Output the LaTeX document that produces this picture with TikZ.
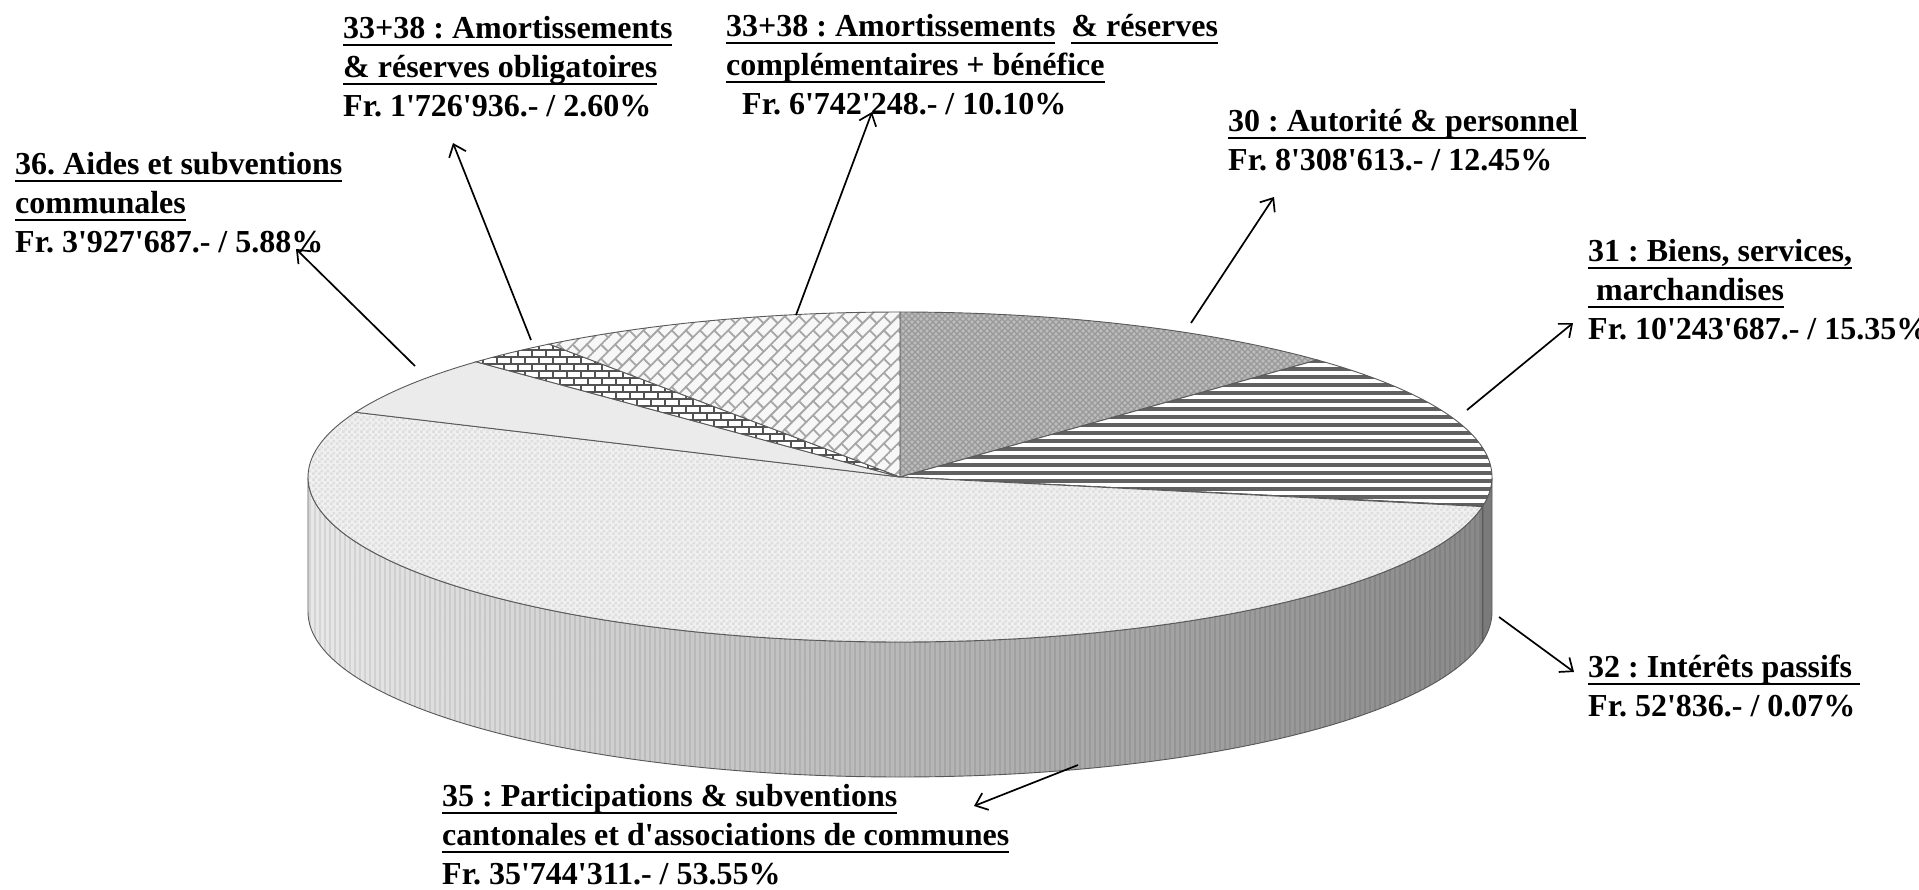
\documentclass[tikz,border=0pt]{standalone}
\usepackage{fontspec}
\newfontfamily\lbl{Liberation Serif}
\usetikzlibrary{arrows.meta,patterns,patterns.meta}

\pgfdeclarepattern{
  name=hbricks, type=uncolored,
  bottom left={\pgfpoint{-1pt}{-1pt}}, top right={\pgfpoint{15pt}{15pt}},
  tile size={\pgfpoint{14pt}{14pt}},
  code={
    \pgfsetlinewidth{1.9pt}
    \pgfpathmoveto{\pgfpoint{-1pt}{0pt}}\pgfpathlineto{\pgfpoint{15pt}{0pt}}
    \pgfpathmoveto{\pgfpoint{-1pt}{7pt}}\pgfpathlineto{\pgfpoint{15pt}{7pt}}
    \pgfpathmoveto{\pgfpoint{0pt}{0pt}}\pgfpathlineto{\pgfpoint{0pt}{7pt}}
    \pgfpathmoveto{\pgfpoint{7pt}{7pt}}\pgfpathlineto{\pgfpoint{7pt}{14pt}}
    \pgfusepath{stroke}
  }
}
\pgfdeclarepattern{
  name=dbricks, type=uncolored,
  bottom left={\pgfpoint{-1pt}{-1pt}}, top right={\pgfpoint{21pt}{21pt}},
  tile size={\pgfpoint{20pt}{20pt}},
  tile transformation={\pgftransformrotate{45}},
  code={
    \pgfsetlinewidth{1.8pt}
    \pgfpathmoveto{\pgfpoint{-1pt}{0pt}}\pgfpathlineto{\pgfpoint{21pt}{0pt}}
    \pgfpathmoveto{\pgfpoint{-1pt}{10pt}}\pgfpathlineto{\pgfpoint{21pt}{10pt}}
    \pgfpathmoveto{\pgfpoint{0pt}{0pt}}\pgfpathlineto{\pgfpoint{0pt}{10pt}}
    \pgfpathmoveto{\pgfpoint{10pt}{10pt}}\pgfpathlineto{\pgfpoint{10pt}{20pt}}
    \pgfusepath{stroke}
  }
}
\pgfdeclarepattern{
  name=xhatch, type=uncolored,
  bottom left={\pgfpoint{-.5pt}{-.5pt}}, top right={\pgfpoint{6.5pt}{6.5pt}},
  tile size={\pgfpoint{6pt}{6pt}},
  code={
    \pgfsetlinewidth{1.2pt}
    \pgfpathmoveto{\pgfpoint{-.5pt}{-.5pt}}\pgfpathlineto{\pgfpoint{6.5pt}{6.5pt}}
    \pgfpathmoveto{\pgfpoint{-.5pt}{6.5pt}}\pgfpathlineto{\pgfpoint{6.5pt}{-.5pt}}
    \pgfusepath{stroke}
  }
}
\pgfdeclarepattern{
  name=fcheck, type=uncolored,
  bottom left={\pgfpoint{0pt}{0pt}}, top right={\pgfpoint{6pt}{6pt}},
  tile size={\pgfpoint{6pt}{6pt}},
  code={
    \pgfpathrectangle{\pgfpoint{0pt}{0pt}}{\pgfpoint{3pt}{3pt}}
    \pgfpathrectangle{\pgfpoint{3pt}{3pt}}{\pgfpoint{3pt}{3pt}}
    \pgfusepath{fill}
  }
}

\newcommand\ulbox[1]{\setbox0=\hbox{#1}\rlap{\vrule height -5.5pt depth 8.3pt width \wd0}\box0}

\begin{document}
\frenchspacing
\begin{tikzpicture}[x=1pt,y=-1pt,
  lbltext/.style={anchor=base west, inner sep=0pt, font=\lbl\bfseries\fontsize{32}{39}\selectfont\frenchspacing},
  ptr/.style={line width=1.7pt, -{Straight Barb[length=11pt,width=18pt]}},
  edge/.style={draw=black!65, line width=0.9pt},
  top30/.style={edge, preaction={fill=black!26}, pattern=xhatch, pattern color=black!40},
  top31/.style={edge, preaction={fill=white}, pattern={Lines[angle=0,distance=8pt,line width=3.5pt]}, pattern color=black!62},
  top32/.style={edge, fill=black!45},
  top35/.style={edge, preaction={fill=black!6}, pattern=fcheck, pattern color=black!13},
  top36/.style={edge, fill=black!8},
  topob/.style={edge, preaction={fill=white}, pattern=hbricks, pattern color=black!68},
  topco/.style={edge, preaction={fill=black!3}, pattern=dbricks, pattern color=black!35},
  side35/.style={edge, left color=black!9, middle color=black!20, right color=black!46},
  sidestripes/.style={pattern={Lines[angle=90,distance=5pt,line width=1.5pt]}, pattern color=black, opacity=0.08},
  side31/.style={edge, fill=black!52},
  side32/.style={edge, fill=black!60},
]
\useasboundingbox (0,0) rectangle (1919,889);
\fill[white] (0,0) rectangle (1919,889);

% ---- sides (front) ----
\path[side35] plot[domain=-180:-10.33,samples=120] ({900+592*cos(\x)},{477-165*sin(\x)})
   -- plot[domain=-10.33:-180,samples=120] ({900+592*cos(\x)},{612-165*sin(\x)}) -- cycle;
\path[sidestripes] plot[domain=-180:-10.33,samples=120] ({900+592*cos(\x)},{477-165*sin(\x)})
   -- plot[domain=-10.33:-180,samples=120] ({900+592*cos(\x)},{612-165*sin(\x)}) -- cycle;
\path[side32] plot[domain=-10.33:-10.08,samples=3] ({900+592*cos(\x)},{477-165*sin(\x)})
   -- plot[domain=-10.08:-10.33,samples=3] ({900+592*cos(\x)},{612-165*sin(\x)}) -- cycle;
\path[side31] plot[domain=-10.08:0,samples=12] ({900+592*cos(\x)},{477-165*sin(\x)})
   -- plot[domain=0:-10.08,samples=12] ({900+592*cos(\x)},{612-165*sin(\x)}) -- cycle;

% ---- top slices ----
\path[top30] (900,477) -- plot[domain=90:45.18,samples=40] ({900+592*cos(\x)},{477-165*sin(\x)}) -- cycle;
\path[top31] (900,477) -- plot[domain=45.18:-10.08,samples=50] ({900+592*cos(\x)},{477-165*sin(\x)}) -- cycle;
\path[top32] (900,477) -- plot[domain=-10.08:-10.33,samples=3] ({900+592*cos(\x)},{477-165*sin(\x)}) -- cycle;
\path[top35] (900,477) -- plot[domain=-10.33:-203.11,samples=150] ({900+592*cos(\x)},{477-165*sin(\x)}) -- cycle;
\path[top36] (900,477) -- plot[domain=-203.11:-224.28,samples=20] ({900+592*cos(\x)},{477-165*sin(\x)}) -- cycle;
\path[topob] (900,477) -- plot[domain=-224.28:-233.64,samples=10] ({900+592*cos(\x)},{477-165*sin(\x)}) -- cycle;
\path[topco] (900,477) -- plot[domain=-233.64:-270,samples=30] ({900+592*cos(\x)},{477-165*sin(\x)}) -- cycle;

% ---- labels ----
\node[lbltext] (lob) at (343,38) {\vtop{\hbox{\ulbox{33+38 : Amortissements}}\hbox{\ulbox{\& réserves obligatoires}}\hbox{Fr. 1'726'936.- / 2.60\%}}};
\node[lbltext] (lco) at (726,36) {\vtop{\hbox{\ulbox{33+38 : Amortissements}\ \ \ulbox{\& réserves}}\hbox{\ulbox{complémentaires + bénéfice}}\hbox{\hspace{16pt}Fr. 6'742'248.- / 10.10\%}}};
\node[lbltext] (l30) at (1228,131) {\vtop{\hbox{\ulbox{30 : Autorité \& personnel\ }}\hbox{Fr. 8'308'613.- / 12.45\%}}};
\node[lbltext] (l36) at (15,174) {\vtop{\hbox{\ulbox{36. Aides et subventions}}\hbox{\ulbox{communales}}\hbox{Fr. 3'927'687.- / 5.88\%}}};
\node[lbltext] (l31) at (1588,261) {\vtop{\hbox{\ulbox{31 : Biens, services,}}\hbox{\ulbox{\ marchandises}}\hbox{Fr. 10'243'687.- / 15.35\%}}};
\node[lbltext] (l32) at (1588,677) {\vtop{\hbox{\ulbox{32 : Intérêts passifs\ }}\hbox{Fr. 52'836.- / 0.07\%}}};
\node[lbltext] (l35) at (442,806) {\vtop{\hbox{\ulbox{35 : Participations \& subventions}}\hbox{\ulbox{cantonales et d'associations de communes}}\hbox{Fr. 35'744'311.- / 53.55\%}}};

% ---- pointers ----
\coordinate (s36) at (415,366);  \coordinate (e36) at (296,249);
\coordinate (sob) at (531,340);  \coordinate (eob) at (453,143);
\coordinate (sco) at (796,315);  \coordinate (eco) at (872,112);
\coordinate (s30) at (1191,323); \coordinate (e30) at (1274,197);
\coordinate (s31) at (1467,410); \coordinate (e31) at (1573,323);
\coordinate (s32) at (1499,617); \coordinate (e32) at (1574,672);
\coordinate (s35) at (1078,765); \coordinate (e35) at (974,806);
\draw[ptr] (s36) -- (e36);
\draw[ptr] (sob) -- (eob);
\draw[ptr] (sco) -- (eco);
\draw[ptr] (s30) -- (e30);
\draw[ptr] (s31) -- (e31);
\draw[ptr] (s32) -- (e32);
\draw[ptr] (s35) -- (e35);
\end{tikzpicture}
\end{document}
